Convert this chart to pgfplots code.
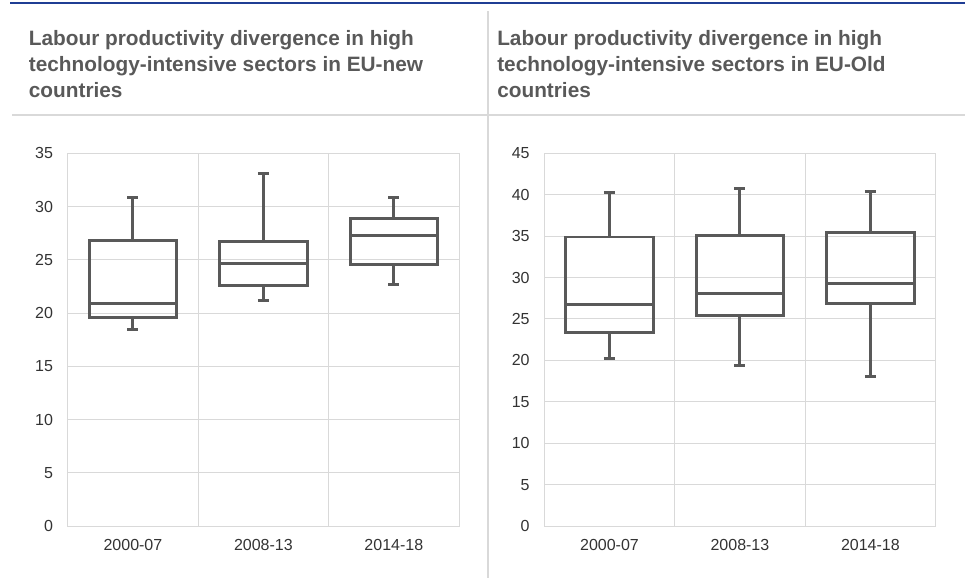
\documentclass[border=0pt]{standalone}
\usepackage{pgfplots}
\pgfplotsset{compat=1.18}
\usepgfplotslibrary{statistics}
\usepackage{fontspec}
\setmainfont{Liberation Sans}
\definecolor{boxc}{HTML}{595959}
\definecolor{gridc}{HTML}{D9D9D9}
\definecolor{titlec}{HTML}{595959}
\definecolor{tickc}{HTML}{333333}
\definecolor{bluec}{HTML}{1F3D94}
\pgfplotsset{
  mybox/.style={
    scale only axis, width=293.5pt, height=279.5pt,
    anchor=south west,
    xmin=0.5, xmax=3.5,
    xtick={1,2,3}, xticklabels={2000-07,2008-13,2014-18},
    minor xtick={1.5,2.5}, xminorgrids=true,
    ymajorgrids=true,
    major tick length=0pt, minor tick length=0pt,
    axis line style={gridc, line width=0.75pt},
    grid style={gridc, line width=0.75pt},
    minor grid style={gridc, line width=0.75pt},
    ticklabel style={font=\fontsize{12pt}{14pt}\selectfont, text=tickc},
    /pgf/number format/assume math mode=true,
    yticklabel style={inner sep=0pt, xshift=-10.8pt},
    xticklabel style={inner sep=0pt, yshift=-10pt},
    boxplot/draw direction=y,
    boxplot/box extend=0.67,
    boxplot/whisker extend=0.085,
  },
  bx/.style={draw=boxc, line width=2.2pt, solid},
}
\begin{document}
\begin{tikzpicture}
\useasboundingbox (0,0) rectangle (723.75pt,-440.25pt);
\draw[bluec, line width=1.5pt] (7.5pt,-2.25pt) -- (723.75pt,-2.25pt);
\draw[gridc, line width=1.5pt] (9pt,-86.6pt) -- (723.75pt,-86.6pt);
\draw[gridc, line width=1.2pt] (366pt,-8.25pt) -- (366pt,-433.5pt);
\foreach \t/\yy in {Labour productivity divergence in high/33.75, technology-intensive sectors in EU-new/53.25, countries/72.75}
  \node[anchor=base west, inner sep=0pt, text=titlec, font=\bfseries\fontsize{15.6pt}{18pt}\selectfont] at (21.5pt,-\yy pt) {\t};
\foreach \t/\yy in {Labour productivity divergence in high/33.75, technology-intensive sectors in EU-Old/53.25, countries/72.75}
  \node[anchor=base west, inner sep=0pt, text=titlec, font=\bfseries\fontsize{15.6pt}{18pt}\selectfont] at (372.75pt,-\yy pt) {\t};

\begin{axis}[mybox, at={(50.78pt,-394.5pt)}, ymin=0, ymax=35, ytick={0,5,...,35}]
\addplot[bx, boxplot prepared={draw position=1, lower whisker=18.44, lower quartile=19.59, median=20.88, upper quartile=26.78, upper whisker=30.84}] coordinates {};
\addplot[bx, boxplot prepared={draw position=2, lower whisker=21.22, lower quartile=22.56, median=24.65, upper quartile=26.69, upper whisker=33.09}] coordinates {};
\addplot[bx, boxplot prepared={draw position=3, lower whisker=22.66, lower quartile=24.60, median=27.31, upper quartile=28.84, upper whisker=30.88}] coordinates {};
\end{axis}

\begin{axis}[mybox, at={(408.2pt,-394.5pt)}, ymin=0, ymax=45, ytick={0,5,...,45}]
\addplot[bx, boxplot prepared={draw position=1, lower whisker=20.24, lower quartile=23.34, median=26.80, upper quartile=34.90, upper whisker=40.29}] coordinates {};
\addplot[bx, boxplot prepared={draw position=2, lower whisker=19.40, lower quartile=25.40, median=28.13, upper quartile=35.10, upper whisker=40.81}] coordinates {};
\addplot[bx, boxplot prepared={draw position=3, lower whisker=18.10, lower quartile=26.92, median=29.30, upper quartile=35.41, upper whisker=40.36}] coordinates {};
\end{axis}
\end{tikzpicture}
\end{document}
